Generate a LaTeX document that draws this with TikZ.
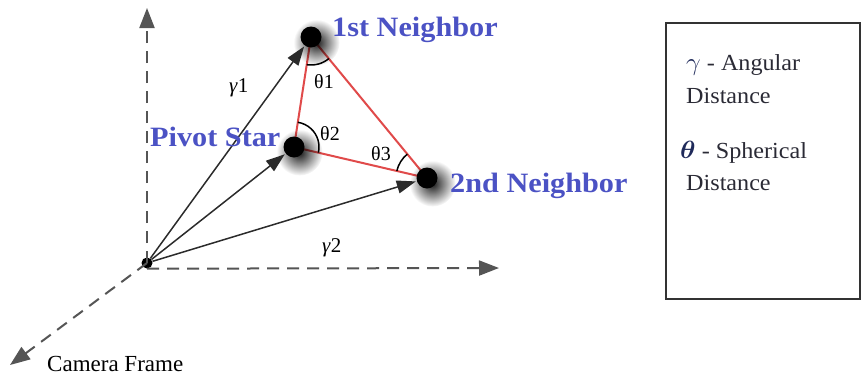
\documentclass[tikz,border=0pt]{standalone}
\usepackage{fontspec}
\setmainfont{Liberation Serif}
\usetikzlibrary{arrows.meta,backgrounds,angles,shadows,fadings}
\definecolor{StarBlue}{HTML}{4B52C4}
\definecolor{TriRed}{HTML}{E04A4A}
\definecolor{AxisGray}{HTML}{555555}
\definecolor{VecGray}{HTML}{2B2B2B}
\definecolor{LegendInk}{HTML}{2A2A35}
\definecolor{GammaInk}{HTML}{1F2A5A}
\tikzfading[name=blurdot,inner color=transparent!0,outer color=transparent!100]
\tikzset{
  axisarrow/.style={-{Triangle[length=20pt,width=15pt]},line width=2pt,draw=AxisGray,dash pattern=on 12pt off 8pt},
  vecarrow/.style={-{Triangle[length=19pt,width=13pt]},line width=1.5pt,draw=VecGray,shorten >=1pt},
  star/.style={circle,fill=black,inner sep=0pt,minimum size=21pt,
    circular drop shadow={shadow xshift=2.5pt,shadow yshift=-2.5pt,shadow scale=2.2,opacity=.9,fill=black,path fading=blurdot}},
  origin/.style={circle,fill=black,inner sep=0pt,minimum size=11pt},
  starlabel/.style={font=\fontsize{28}{30}\selectfont\bfseries,text=StarBlue,xscale=1.08,inner sep=0pt,anchor=base west},
  anglabel/.style={font=\fontsize{20}{21}\selectfont,inner sep=0pt,anchor=base west},
  legendtext/.style={font=\fontsize{23}{25}\selectfont,text=LegendInk,xscale=1.05,inner sep=0pt,anchor=base west},
  side/.style={draw=TriRed,line width=2pt},
  angarc/.style={draw,line width=1.5pt}
}

\begin{document}
\begin{tikzpicture}[x=1pt,y=-1pt]
  \useasboundingbox (0,0) rectangle (861,375);
  % stars
  \node[origin] (cam) at (147,263) {};
  \node[star] (first) at (311,37) {};
  \node[star] (pivot) at (294,147) {};
  \node[star] (second) at (427,178) {};
  \begin{scope}[on background layer]
    \draw[side] (first.center) -- (pivot.center) -- (second.center) -- cycle;
  \end{scope}
  % camera frame axes
  \coordinate (ytip) at (147,8);
  \coordinate (xtip) at (499,268);
  \coordinate (ztip) at (10,365);
  \draw[axisarrow] (cam.center) -- (ytip);
  \draw[axisarrow] (cam.south) -- (xtip);
  \draw[axisarrow] (cam.center) -- (ztip);
  \draw[vecarrow] (cam) -- (first);
  \draw[vecarrow] (cam) -- (pivot);
  \draw[vecarrow] (cam) -- (second);
  % angles
  \pic[angarc,angle radius=28pt] {angle=pivot--first--second};
  \pic[angarc,angle radius=25pt] {angle=second--pivot--first};
  \pic[angarc,angle radius=31pt] {angle=first--second--pivot};
  \node[anglabel] (th1) at (314,88) {θ1};
  \node[anglabel] (th2) at (320,140) {θ2};
  \node[anglabel] (th3) at (371,160) {θ3};
  \node[anglabel,font=\fontsize{21}{22}\selectfont] (g1) at (229,92) {\textit{γ}1};
  \node[anglabel,font=\fontsize{21}{22}\selectfont] (g2) at (322,252) {\textit{γ}2};
  % labels
  \node[starlabel] (firstlbl) at (332,36) {1st Neighbor};
  \node[starlabel] (pivotlbl) at (150,146) {Pivot Star};
  \node[starlabel] (secondlbl) at (450,192) {2nd Neighbor};
  \node[anglabel,font=\fontsize{23}{24}\selectfont] (camlbl) at (47,371) {Camera Frame};
  % legend
  \node[draw=black!80,line width=1.5pt,minimum width=194pt,minimum height=276pt,
        anchor=north west,inner sep=0pt] (legend) at (665,22) {};
  \node[legendtext] (gam) at (686,70) {\textcolor{GammaInk}{$\gamma$} - Angular};
  \node[legendtext] (gamd) at (686,103) {Distance};
  \node[legendtext] (thet) at (680,158) {\textcolor{GammaInk}{\fontsize{28}{28}\selectfont\boldmath$\theta$} - Spherical};
  \node[legendtext] (thetd) at (686,190) {Distance};
\end{tikzpicture}
\end{document}
